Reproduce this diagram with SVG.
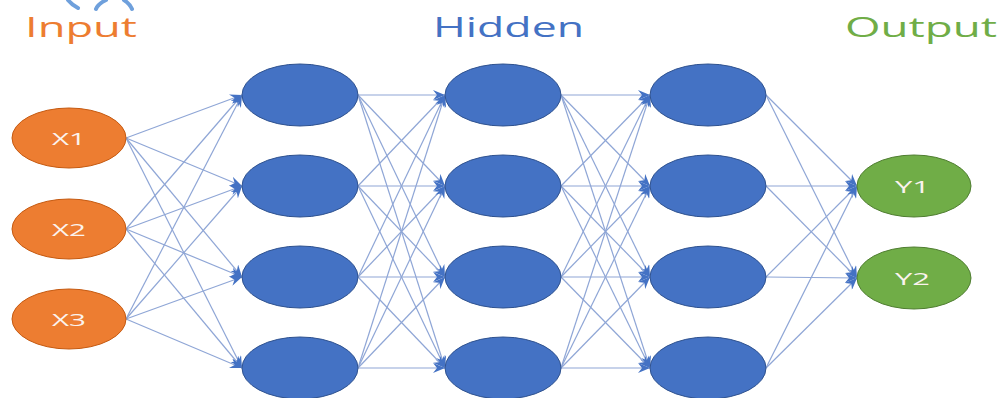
<svg xmlns="http://www.w3.org/2000/svg" width="1005" height="398" viewBox="0 0 1005 398">
<style>
.title{font-family:"Open Sans","Liberation Sans",sans-serif;font-size:27px}
.lbl{font-family:"Open Sans","Liberation Sans",sans-serif;font-size:17px;fill:#FBF3EE;text-anchor:start}
.in{fill:#ED7D31;stroke:#C55A11;stroke-width:1}
.hid{fill:#4472C4;stroke:#2F528F;stroke-width:1}
.out{fill:#70AD47;stroke:#507E32;stroke-width:1}
.conn path{stroke:#8FA6D6;stroke-width:1.2;fill:none;marker-end:url(#arr)}
</style>
<defs>
<marker id="arr" markerUnits="userSpaceOnUse" markerWidth="12" markerHeight="10" refX="12" refY="5" orient="auto">
<path d="M0,0 L12,5 L0,10 L4,5 z" fill="#4472C4"/>
</marker>
</defs>
<rect width="1005" height="398" fill="#FFFFFF"/>
<g fill="none" stroke="#6FA0DC" stroke-width="4" stroke-linecap="round">
<path d="M68,0 Q72,5 78,8"/>
<path d="M106,0 Q98,4 96,9"/>
<path d="M124,0 Q130,4 132,9"/>
</g>
<text class="title" x="25" y="37" fill="#ED7D31" textLength="112" lengthAdjust="spacingAndGlyphs">Input</text>
<text class="title" x="433" y="37" fill="#4472C4" textLength="151" lengthAdjust="spacingAndGlyphs">Hidden</text>
<text class="title" x="845" y="37" fill="#70AD47" textLength="152" lengthAdjust="spacingAndGlyphs">Output</text>
<g class="conn" id="connectors">
<path d="M126,138 L242,95"/><path d="M126,138 L242,186"/><path d="M126,138 L242,277"/><path d="M126,138 L242,368"/>
<path d="M126,229 L242,95"/><path d="M126,229 L242,186"/><path d="M126,229 L242,277"/><path d="M126,229 L242,368"/>
<path d="M126,319 L242,95"/><path d="M126,319 L242,186"/><path d="M126,319 L242,277"/><path d="M126,319 L242,368"/>
<path d="M358,95 L445,95"/><path d="M358,95 L445,186"/><path d="M358,95 L445,277"/><path d="M358,95 L445,368"/>
<path d="M358,186 L445,95"/><path d="M358,186 L445,186"/><path d="M358,186 L445,277"/><path d="M358,186 L445,368"/>
<path d="M358,277 L445,95"/><path d="M358,277 L445,186"/><path d="M358,277 L445,277"/><path d="M358,277 L445,368"/>
<path d="M358,368 L445,95"/><path d="M358,368 L445,186"/><path d="M358,368 L445,277"/><path d="M358,368 L445,368"/>
<path d="M561,95 L650,95"/><path d="M561,95 L650,186"/><path d="M561,95 L650,277"/><path d="M561,95 L650,368"/>
<path d="M561,186 L650,95"/><path d="M561,186 L650,186"/><path d="M561,186 L650,277"/><path d="M561,186 L650,368"/>
<path d="M561,277 L650,95"/><path d="M561,277 L650,186"/><path d="M561,277 L650,277"/><path d="M561,277 L650,368"/>
<path d="M561,368 L650,95"/><path d="M561,368 L650,186"/><path d="M561,368 L650,277"/><path d="M561,368 L650,368"/>
<path d="M766,95 L857,186"/><path d="M766,95 L857,278"/>
<path d="M766,186 L857,186"/><path d="M766,186 L857,278"/>
<path d="M766,277 L857,186"/><path d="M766,277 L857,278"/>
<path d="M766,368 L857,186"/><path d="M766,368 L857,278"/>
</g>
<g id="x1"><ellipse class="in" cx="69" cy="138" rx="57" ry="30"/><text class="lbl" x="52" y="145" textLength="34" lengthAdjust="spacingAndGlyphs">X1</text></g>
<g id="x2"><ellipse class="in" cx="69" cy="229" rx="57" ry="30"/><text class="lbl" x="52" y="236" textLength="34" lengthAdjust="spacingAndGlyphs">X2</text></g>
<g id="x3"><ellipse class="in" cx="69" cy="319" rx="57" ry="30"/><text class="lbl" x="52" y="326" textLength="34" lengthAdjust="spacingAndGlyphs">X3</text></g>
<g id="h11"><ellipse class="hid" cx="300" cy="95" rx="58" ry="31"/></g>
<g id="h12"><ellipse class="hid" cx="300" cy="186" rx="58" ry="31"/></g>
<g id="h13"><ellipse class="hid" cx="300" cy="277" rx="58" ry="31"/></g>
<g id="h14"><ellipse class="hid" cx="300" cy="368" rx="58" ry="31"/></g>
<g id="h21"><ellipse class="hid" cx="503" cy="95" rx="58" ry="31"/></g>
<g id="h22"><ellipse class="hid" cx="503" cy="186" rx="58" ry="31"/></g>
<g id="h23"><ellipse class="hid" cx="503" cy="277" rx="58" ry="31"/></g>
<g id="h24"><ellipse class="hid" cx="503" cy="368" rx="58" ry="31"/></g>
<g id="h31"><ellipse class="hid" cx="708" cy="95" rx="58" ry="31"/></g>
<g id="h32"><ellipse class="hid" cx="708" cy="186" rx="58" ry="31"/></g>
<g id="h33"><ellipse class="hid" cx="708" cy="277" rx="58" ry="31"/></g>
<g id="h34"><ellipse class="hid" cx="708" cy="368" rx="58" ry="31"/></g>
<g id="y1"><ellipse class="out" cx="914" cy="186" rx="57" ry="31"/><text class="lbl" x="895" y="193" textLength="35" lengthAdjust="spacingAndGlyphs">Y1</text></g>
<g id="y2"><ellipse class="out" cx="914" cy="278" rx="57" ry="31"/><text class="lbl" x="895" y="285" textLength="35" lengthAdjust="spacingAndGlyphs">Y2</text></g>
</svg>
